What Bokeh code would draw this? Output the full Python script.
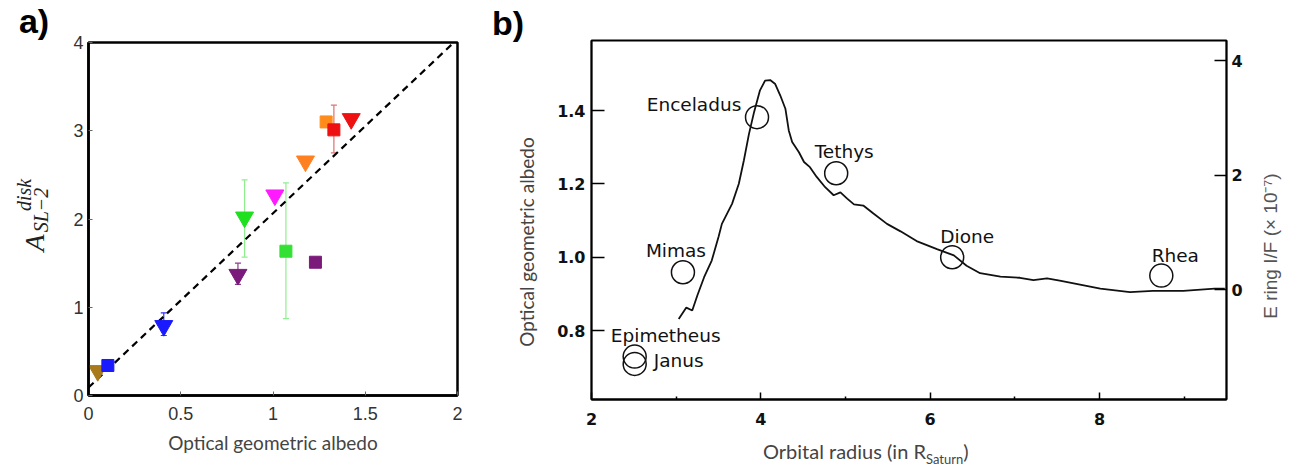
import math
from bokeh.plotting import figure
from bokeh.models import Range1d, LinearAxis, FixedTicker, Whisker, TeeHead, ColumnDataSource, Div
from bokeh.layouts import row, column
from bokeh.embed import file_html
from bokeh.resources import INLINE
from bokeh.core.properties import value

# ---------------- Panel a data ----------------
sq_x = [0.105, 1.07, 1.23, 1.288, 1.33]
sq_y = [0.34, 1.635, 1.51, 3.10, 3.01]
sq_color = ["#1a1aff", "#33e033", "#7a1a7a", "#ff8c1a", "#ee1111"]

tri_x = [0.05, 0.408, 0.81, 0.846, 1.01, 1.176, 1.424]
tri_y = [0.28, 0.79, 1.37, 2.02, 2.27, 2.655, 3.135]
tri_color = ["#a87a1c", "#1a1aff", "#7a1a7a", "#1ee01e", "#ff1aff", "#ff8020", "#ee1111"]

err_x = [0.408, 0.81, 0.846, 1.07, 1.33]
err_lo = [0.68, 1.26, 1.567, 0.87, 2.75]
err_hi = [0.937, 1.50, 2.444, 2.41, 3.29]
err_color = ["#3030ff", "#8a3a8a", "#90ee90", "#90ee90", "#e07070"]

fit_x = [0.0, 1.98]
fit_y = [0.09, 4.0]

a_xticks = [0, 0.5, 1, 1.5, 2]
a_xlabels = ["0", "0.5", "1", "1.5", "2"]
a_yticks = [0, 1, 2, 3, 4]

# ---------------- Panel b data ----------------
moon_names = ["Janus", "Epimetheus", "Mimas", "Enceladus", "Tethys", "Dione", "Rhea"]
moon_radius = [2.51, 2.51, 3.08, 3.955, 4.89, 6.26, 8.73]
moon_albedo = [0.709, 0.729, 0.959, 1.382, 1.229, 1.00, 0.950]

ering_r = [3.03, 3.12, 3.19, 3.25, 3.33, 3.42, 3.50, 3.54, 3.66, 3.74, 3.80, 3.86, 3.92,
           3.99, 4.05, 4.11, 4.17, 4.23, 4.29, 4.33, 4.37, 4.45, 4.51, 4.58, 4.66, 4.76,
           4.86, 4.94, 5.02, 5.10, 5.21, 5.33, 5.49, 5.65, 5.84, 5.96, 6.08, 6.28, 6.43,
           6.59, 6.83, 7.06, 7.22, 7.38, 7.53, 7.77, 8.01, 8.36, 8.63, 8.99, 9.36, 9.48]
ering_if = [-0.51, -0.31, -0.36, -0.10, 0.22, 0.51, 0.92, 1.15, 1.50, 1.85, 2.26, 2.72, 3.10,
            3.48, 3.65, 3.66, 3.59, 3.39, 3.16, 2.78, 2.58, 2.40, 2.23, 2.14, 1.97, 1.79,
            1.65, 1.70, 1.59, 1.49, 1.47, 1.33, 1.15, 1.02, 0.85, 0.78, 0.71, 0.60, 0.42,
            0.29, 0.23, 0.21, 0.17, 0.20, 0.16, 0.09, 0.02, -0.04, -0.02, -0.02, 0.02, 0.02]

b_xticks = [2, 4, 6, 8]
b_xminor = [3, 5, 7, 9]
b_yticks = [0.8, 1.0, 1.2, 1.4]
b_ylabels = ["0.8", "1.0", "1.2", "1.4"]
b_rticks = [0, 2, 4]


def span(x, y, text, font, size, color="#222222", weight="normal", style="normal",
         rotate=False, anchor="center"):
    if anchor == "center":
        tr = "translate(-50%,-50%)" + (" rotate(-90deg)" if rotate else "")
    else:
        tr = "none"
    return ('<span style="position:absolute;left:%spx;top:%spx;transform:%s;'
            'white-space:nowrap;font-family:\'%s\';font-size:%spx;color:%s;'
            'font-weight:%s;font-style:%s;line-height:1;">%s</span>'
            % (x, y, tr, font, size, color, weight, style, text))


def text_div(w, h, spans):
    html = ('<div style="position:relative;width:%dpx;height:%dpx;overflow:visible;">'
            % (w, h)) + "".join(spans) + "</div>"
    return Div(text=html, width=w, height=h, margin=0, styles={"overflow": "visible"})


# ================= Panel a =================
div_a = text_div(60, 466, [
    span(34, 21, "a)", "Liberation Sans", 34, "black", weight="bold"),
    span(35, 243, "A", "Liberation Serif", 28, style="italic", rotate=True),
    span(24, 195, "disk", "Liberation Serif", 20, style="italic", rotate=True),
    span(41, 210, "SL\u22122", "Liberation Serif", 20, style="italic", rotate=True),
])

pa = figure(width=420, height=466, x_range=Range1d(0, 2), y_range=Range1d(0, 4),
            output_backend="svg", toolbar_location=None,
            min_border_left=28, min_border_right=23, min_border_top=42, min_border_bottom=71)
pa.grid.visible = False
pa.outline_line_color = "black"
pa.outline_line_width = 2.5
pa.outline_line_alpha = 1.0
for ax in (pa.xaxis[0], pa.yaxis[0]):
    ax.axis_line_width = 2.5
    ax.axis_line_color = "black"
    ax.major_tick_in = 4
    ax.major_tick_out = 0
    ax.minor_tick_out = 0
    ax.minor_tick_in = 0
    ax.minor_tick_line_color = None
    ax.major_tick_line_color = "#666666"
    ax.major_label_text_font = "Liberation Sans"
    ax.major_label_text_font_size = "18px"
    ax.major_label_text_color = "#333333"
pa.xaxis.ticker = FixedTicker(ticks=a_xticks)
pa.xaxis.major_label_overrides = {t: l for t, l in zip(a_xticks, a_xlabels)}
pa.xaxis.major_label_standoff = 11
pa.xaxis.axis_label = "Optical geometric albedo"
pa.xaxis.axis_label_text_font = "Lato"
pa.xaxis.axis_label_text_font_size = "19px"
pa.xaxis.axis_label_text_font_style = "normal"
pa.xaxis.axis_label_text_color = "#444444"
pa.xaxis.axis_label_standoff = 8
pa.yaxis.ticker = FixedTicker(ticks=a_yticks)
pa.yaxis.major_label_standoff = 5

pa.line(fit_x, fit_y, line_color="black", line_width=2.2, line_dash="7 5")

for xx, lo, hi, col in zip(err_x, err_lo, err_hi, err_color):
    src = ColumnDataSource(dict(base=[xx], lower=[lo], upper=[hi]))
    pa.add_layout(Whisker(source=src, base="base", lower="lower", upper="upper",
                          line_color=col, line_width=1.2,
                          lower_head=TeeHead(size=6, line_color=col, line_width=1.2),
                          upper_head=TeeHead(size=6, line_color=col, line_width=1.2)))

pa.scatter(tri_x, tri_y, marker="inverted_triangle", size=18, fill_color=tri_color,
           line_color=tri_color)
pa.scatter(sq_x, sq_y, marker="square", size=12, fill_color=sq_color, line_color=sq_color)

# ================= Panel b =================
div_b = text_div(68, 466, [
    span(28, 23, "b)", "Liberation Sans", 34, "black", weight="bold"),
    span(46, 242, "Optical geometric albedo", "Lato", 19, "#444444", rotate=True),
])

pb = figure(width=704, height=432, x_range=Range1d(2, 9.5), y_range=Range1d(0.612, 1.591),
            output_backend="svg", toolbar_location=None,
            min_border_left=43, min_border_right=26, min_border_top=40, min_border_bottom=33)
pb.extra_y_ranges = {"ering": Range1d(-1.914, 4.35)}
pb.grid.visible = False
pb.outline_line_color = "black"
pb.outline_line_width = 1.8
pb.outline_line_alpha = 1.0

laxis = pb.left[0]
baxis = pb.below[0]
raxis = LinearAxis(y_range_name="ering", ticker=FixedTicker(ticks=b_rticks))
pb.add_layout(raxis, "right")

for ax in (baxis, laxis, raxis):
    ax.axis_line_width = 1.8
    ax.axis_line_color = "black"
    ax.major_tick_out = 0
    ax.minor_tick_out = 0
    ax.major_tick_line_color = "black"
    ax.major_tick_line_width = 1.5
    ax.major_label_text_font = "DejaVu Sans"
    ax.major_label_text_font_style = "bold"
    ax.major_label_text_font_size = "16px"
    ax.major_label_text_color = "#111111"
baxis.ticker = FixedTicker(ticks=b_xticks, minor_ticks=b_xminor)
baxis.major_tick_in = 7
baxis.minor_tick_in = 3
baxis.minor_tick_line_color = "black"
baxis.minor_tick_line_width = 1.5
baxis.major_label_standoff = 13
laxis.ticker = FixedTicker(ticks=b_yticks)
laxis.major_label_overrides = {t: l for t, l in zip(b_yticks, b_ylabels)}
laxis.major_tick_in = 13
laxis.minor_tick_in = 0
laxis.minor_tick_line_color = None
laxis.major_label_standoff = 6
raxis.major_tick_in = 12
raxis.minor_tick_in = 0
raxis.minor_tick_line_color = None
raxis.major_label_standoff = 5

pb.line(ering_r, ering_if, y_range_name="ering", line_color="#111111", line_width=1.8)

pb.scatter(moon_radius, moon_albedo, marker="circle", size=23, fill_color=None,
           line_color="#111111", line_width=1.5)

lbl_dx = [44, 31, -7, -63, 8, 15, 14]
lbl_dy = [-3, -21, -22, -13, -22, -21, -20]
pb.text(moon_radius, moon_albedo, text=moon_names, x_offset=lbl_dx, y_offset=lbl_dy,
        text_align="center", text_baseline="middle", text_font=value("DejaVu Sans"),
        text_font_size="18.5px", text_color="#111111")

div_r = text_div(39, 432, [
    span(18, 246, "E ring I/F (\u00d7 10\u207b\u2077)", "Liberation Sans", 19, "#555555",
         rotate=True),
])

div_bottom = text_div(743, 34, [
    span(215, 9, 'Orbital radius (in R<span style="position:relative;top:5px;'
         'font-size:13px;">Saturn</span>)', "Lato", 20, "#444444", anchor="topleft"),
])

layout = row(div_a, pa, div_b, column(row(pb, div_r), div_bottom))
open("out.html", "w").write(file_html(layout, INLINE))
